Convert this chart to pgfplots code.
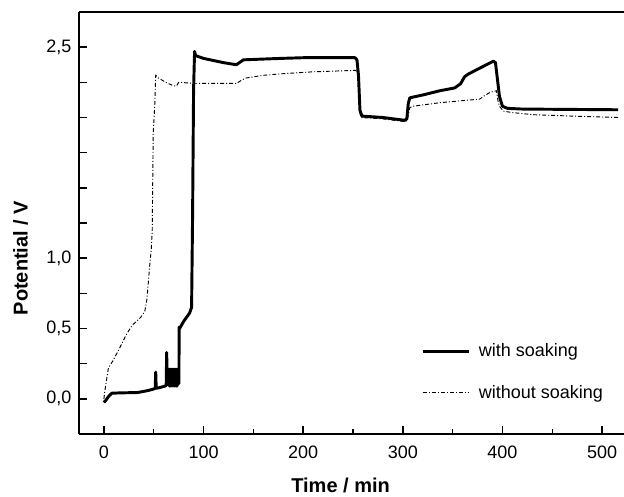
\documentclass[border=0pt]{standalone}
\usepackage{fontspec}
\setmainfont{Liberation Sans}
\usepackage{pgfplots}
\pgfplotsset{compat=1.18}
\begin{document}
\begin{tikzpicture}
\useasboundingbox (-59.25pt,-46.5pt) rectangle (408.75pt,325.5pt);
\begin{axis}[
  at={(0pt,0pt)}, anchor=south west,
  scale only axis, width=408.75pt, height=316.5pt,
  xmin=-25, xmax=522, ymin=-0.25, ymax=2.75,
  axis x line*=box, axis y line*=left,
  axis line style={line width=1.2pt},
  every tick/.style={black, line width=1.1pt},
  tick align=inside,
  xtick pos=bottom, ytick pos=left,
  xtick={0,100,200,300,400,500},
  minor xtick={50,150,250,350,450},
  major tick length=6pt, minor tick length=3.5pt,
  ytick={0,0.25,0.5,0.75,1,1.25,1.5,1.75,2,2.25,2.5},
  yticklabels={\mbox{0,0},,\mbox{0,5},,\mbox{1,0},,,,,,\mbox{2,5}},
  /pgf/number format/assume math mode=true,
  tick label style={font=\fontsize{13.5pt}{16pt}\selectfont},
  yticklabel style={xshift=-2.25pt},
  xticklabel style={yshift=-5.25pt},
  label style={font=\fontsize{15pt}{18pt}\selectfont\bfseries},
  xlabel={Time / min},
  ylabel={Potential / V},
  xlabel style={at={(axis description cs:0.48,-0.1398)}, anchor=base},
  ylabel style={at={(axis description cs:-0.1074,0.417)}, anchor=center},
  legend style={draw=none, fill=none, at={(axis description cs:0.62,0.147)}, anchor=west,
    font=\fontsize{13.5pt}{16pt}\selectfont, row sep=16pt},
  legend cell align=left,
  legend image code/.code={\draw[#1] (0pt,0pt) -- (35pt,0pt); \path (39pt,0pt);},
]
\addplot[black, line width=2.2pt, line join=round] coordinates {
(0,-0.026) (2,-0.01) (5,0.02) (8,0.04) (15,0.042) (34,0.045) (45,0.06) (50,0.07)
(51.5,0.075) (52,0.19) (52.5,0.075) (56,0.08) (61,0.09) (62.5,0.095) (63,0.33) (63.6,0.1)
(64,0.2) (64.25,0.1) (64.5,0.21) (64.75,0.1) (65,0.21) (65.25,0.1) (65.5,0.2) (65.75,0.09)
(66,0.21) (66.25,0.1) (66.5,0.2) (66.75,0.1) (67,0.21) (67.25,0.09) (67.5,0.2) (67.75,0.1)
(68,0.21) (68.25,0.1) (68.5,0.2) (68.75,0.1) (69,0.21) (69.25,0.09) (69.5,0.2) (69.75,0.1)
(70,0.21) (70.25,0.1) (70.5,0.2) (70.75,0.1) (71,0.21) (71.25,0.09) (71.5,0.2) (71.75,0.1)
(72,0.21) (72.25,0.1) (72.5,0.2) (72.75,0.1) (73,0.21) (73.25,0.09) (73.5,0.2) (73.75,0.1)
(74,0.21) (74.25,0.1) (74.5,0.2) (74.75,0.11) (75,0.2) (75.3,0.11)
(75.5,0.51) (76,0.5) (80,0.55) (86,0.61) (88,0.65) (89,1.3) (90,2.2) (91,2.47)
(92,2.44) (100,2.42) (120,2.39) (133,2.375) (136,2.39) (140,2.41) (177,2.42) (200,2.425)
(252,2.425) (254,2.41) (255.5,2.3) (257,2.05) (259,2.01) (280,2.0) (302,1.98) (304,1.99)
(305.5,2.1) (307,2.14) (320,2.16) (337,2.19) (352,2.21) (358,2.24) (362,2.29) (366,2.31)
(377,2.35) (388,2.39) (391,2.40) (393,2.39) (394.5,2.3) (397,2.15) (400,2.08) (405,2.065)
(420,2.06) (516,2.055)
};
\addlegendentry{with soaking}
\addplot[black, line width=0.7pt, dash pattern=on 3pt off 1.5pt on 0.75pt off 1.5pt] coordinates {
(0,0) (1,0.06) (3,0.15) (4.5,0.22) (9,0.27) (15,0.35) (22,0.45) (28,0.52) (37,0.58)
(41,0.62) (43,0.7) (44.5,0.82) (46,0.95) (47.5,1.06) (48.5,1.2) (49.5,1.89) (51,2.08)
(52,2.30) (55,2.28) (62,2.25) (70,2.225) (73,2.225) (75,2.25) (77,2.25) (85,2.245)
(100,2.242) (133,2.242) (137,2.26) (142,2.28) (160,2.30) (177,2.31) (210,2.325) (253,2.335)
(255,2.3) (256.5,2.05) (258,2.0) (280,1.99) (303,1.97) (305,2.0) (307,2.07) (310,2.08)
(337,2.105) (360,2.12) (377,2.13) (383,2.16) (388,2.18) (394,2.19) (395.5,2.12) (397,2.08)
(401,2.045) (410,2.035) (431,2.02) (470,2.01) (516,2.0)
};
\addlegendentry{without soaking}
\end{axis}
\end{tikzpicture}
\end{document}
